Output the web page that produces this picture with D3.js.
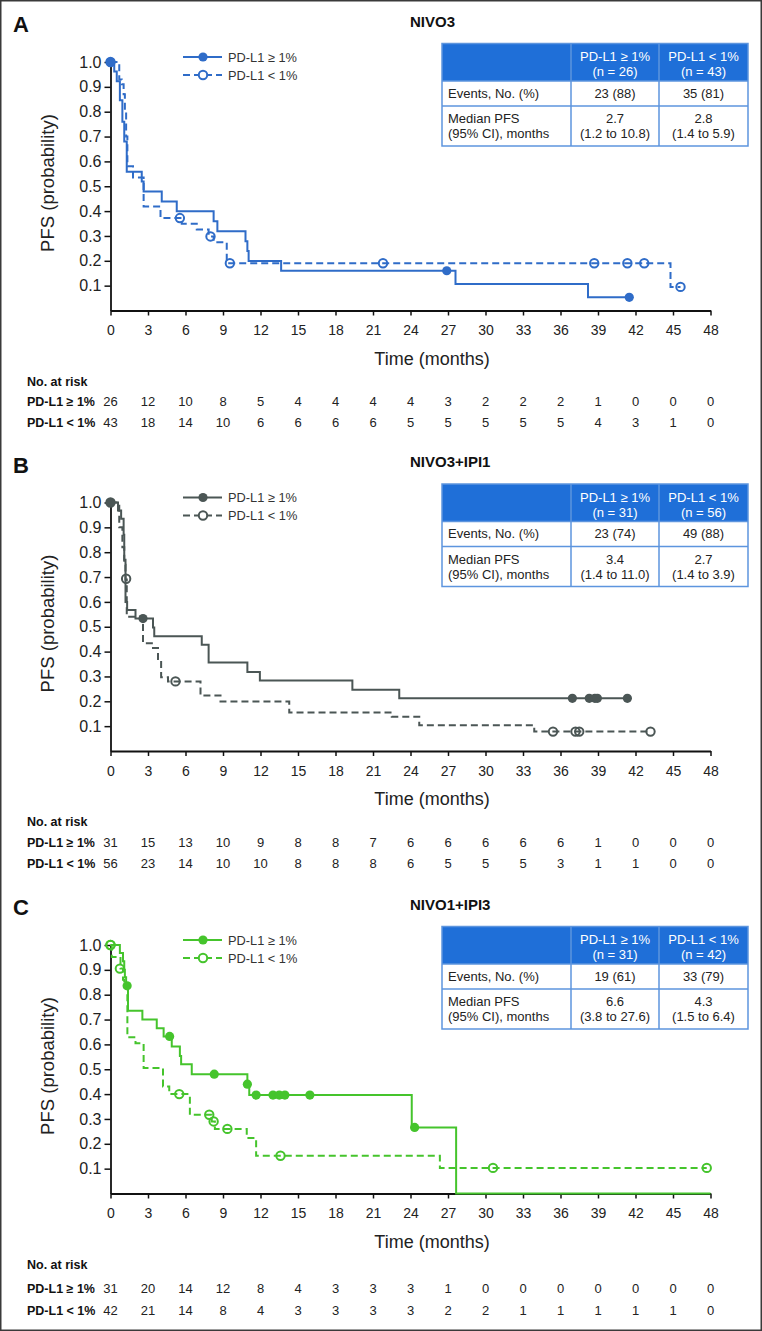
<!DOCTYPE html>
<html><head><meta charset="utf-8">
<script src="https://cdn.jsdelivr.net/npm/d3@7"></script>
<style>
body{margin:0;background:#fff}
svg{display:block}
text{font-family:"Liberation Sans",Arial,Helvetica,sans-serif}
</style>
</head><body>
<svg id="chart" width="762" height="1331"></svg>
<script>
// ---------- shared ticks / labels ----------
const timeTicks = [0,3,6,9,12,15,18,21,24,27,30,33,36,39,42,45,48];
const survTicks = [0.1,0.2,0.3,0.4,0.5,0.6,0.7,0.8,0.9,1.0];
const groupLabels = ["PD-L1 \u2265 1%", "PD-L1 < 1%"];
const tableRowLabels = [["Events, No. (%)"], ["Median PFS", "(95% CI), months"]];

// ---------- Panel A: NIVO3 ----------
const nivo3PosSteps = [[0,1],[0.3,0.962],[0.5,0.923],[0.75,0.846],[0.95,0.76],[1.1,0.68],[1.3,0.558],[2.5,0.519],[2.65,0.479],[4.1,0.439],[5.3,0.399],[8.25,0.359],[8.55,0.319],[10.8,0.279],[10.95,0.239],[11.05,0.199],[13.65,0.16],[27.6,0.107],[38.2,0.053],[41.5,0.053]];
const nivo3PosCensor = [[0,1],[26.9,0.16],[41.5,0.053]];
const nivo3NegSteps = [[0,1],[0.7,0.93],[0.9,0.91],[1.05,0.87],[1.15,0.8],[1.25,0.7],[1.35,0.58],[1.8,0.535],[2.65,0.419],[4.0,0.372],[5.7,0.349],[6.9,0.326],[7.85,0.298],[8.25,0.275],[9.3,0.19],[44.8,0.095],[45.6,0.095]];
const nivo3NegCensor = [[0,1],[5.55,0.372],[8.0,0.298],[9.55,0.19],[21.8,0.19],[38.7,0.19],[41.35,0.19],[42.7,0.19],[45.6,0.095]];
const nivo3RiskPos = [26,12,10,8,5,4,4,4,4,3,2,2,2,1,0,0,0];
const nivo3RiskNeg = [43,18,14,10,6,6,6,6,5,5,5,5,5,4,3,1,0];
const nivo3N = [26,43];
const nivo3Events = ["23 (88)","35 (81)"];
const nivo3Median = ["2.7","2.8"];
const nivo3CI = ["(1.2 to 10.8)","(1.4 to 5.9)"];

// ---------- Panel B: NIVO3+IPI1 ----------
const nivo3ipi1PosSteps = [[0,1],[0.6,0.968],[0.85,0.935],[1.05,0.87],[1.1,0.77],[1.2,0.6],[1.33,0.567],[2.0,0.533],[3.4,0.497],[3.5,0.462],[7.3,0.428],[7.85,0.356],[10.95,0.318],[11.95,0.284],[19.35,0.246],[23.1,0.212],[41.35,0.212]];
const nivo3ipi1PosCensor = [[0,1],[2.6,0.533],[36.95,0.212],[38.3,0.212],[38.75,0.212],[38.95,0.212],[41.35,0.212]];
const nivo3ipi1NegSteps = [[0,1],[0.7,0.9],[0.95,0.82],[1.1,0.75],[1.2,0.69],[1.3,0.54],[2.6,0.434],[3.4,0.414],[3.8,0.37],[4.05,0.297],[4.6,0.28],[7.2,0.223],[8.8,0.199],[14.3,0.155],[22.5,0.138],[24.7,0.104],[33.9,0.078],[43.2,0.078]];
const nivo3ipi1NegCensor = [[0,1],[1.25,0.693],[5.2,0.28],[35.4,0.078],[37.2,0.078],[37.5,0.078],[43.2,0.078]];
const nivo3ipi1RiskPos = [31,15,13,10,9,8,8,7,6,6,6,6,6,1,0,0,0];
const nivo3ipi1RiskNeg = [56,23,14,10,10,8,8,8,6,5,5,5,3,1,1,0,0];
const nivo3ipi1N = [31,56];
const nivo3ipi1Events = ["23 (74)","49 (88)"];
const nivo3ipi1Median = ["3.4","2.7"];
const nivo3ipi1CI = ["(1.4 to 11.0)","(1.4 to 3.9)"];

// ---------- Panel C: NIVO1+IPI3 ----------
const nivo1ipi3PosSteps = [[0,1],[0.75,0.968],[1.0,0.935],[1.1,0.9],[1.15,0.87],[1.25,0.836],[1.4,0.735],[2.55,0.7],[3.7,0.665],[4.25,0.632],[4.9,0.592],[5.55,0.553],[5.65,0.52],[6.5,0.48],[10.95,0.44],[11.1,0.396],[24.1,0.266],[27.65,0],[48,0]];
const nivo1ipi3PosCensor = [[1.33,0.836],[4.73,0.632],[8.3,0.48],[10.95,0.44],[11.65,0.396],[13.0,0.396],[13.5,0.396],[13.95,0.396],[15.95,0.396],[24.33,0.266]];
const nivo1ipi3NegSteps = [[0,1],[0.1,0.952],[0.8,0.905],[1.0,0.86],[1.1,0.83],[1.35,0.629],[2.0,0.605],[2.65,0.505],[4.2,0.431],[4.7,0.40],[6.35,0.317],[8.1,0.29],[8.35,0.26],[10.9,0.223],[11.65,0.152],[26.35,0.103],[47.7,0.103]];
const nivo1ipi3NegCensor = [[0,1],[0.75,0.905],[5.5,0.40],[7.9,0.317],[8.25,0.29],[9.35,0.26],[13.6,0.152],[30.6,0.103],[47.7,0.103]];
const nivo1ipi3RiskPos = [31,20,14,12,8,4,3,3,3,1,0,0,0,0,0,0,0];
const nivo1ipi3RiskNeg = [42,21,14,8,4,3,3,3,3,2,2,1,1,1,1,1,0];
const nivo1ipi3N = [31,42];
const nivo1ipi3Events = ["19 (61)","33 (79)"];
const nivo1ipi3Median = ["6.6","4.3"];
const nivo1ipi3CI = ["(3.8 to 27.6)","(1.5 to 6.4)"];

// ---------- panel configuration (layout + styling) ----------
const panels = [
  {letter:"A", title:"NIVO3", top:0, color:"#2f6cc8", rows:[401,422.5],
   pos:[nivo3PosSteps,nivo3PosCensor], neg:[nivo3NegSteps,nivo3NegCensor],
   risk:[nivo3RiskPos,nivo3RiskNeg], n:nivo3N, events:nivo3Events, median:nivo3Median, ci:nivo3CI, startMarker:"filled"},
  {letter:"B", title:"NIVO3+IPI1", top:440.5, color:"#4b5655", rows:[401.5,422.5],
   pos:[nivo3ipi1PosSteps,nivo3ipi1PosCensor], neg:[nivo3ipi1NegSteps,nivo3ipi1NegCensor],
   risk:[nivo3ipi1RiskPos,nivo3ipi1RiskNeg], n:nivo3ipi1N, events:nivo3ipi1Events, median:nivo3ipi1Median, ci:nivo3ipi1CI, startMarker:"filled"},
  {letter:"C", title:"NIVO1+IPI3", top:883, color:"#45c42c", rows:[405,427],
   pos:[nivo1ipi3PosSteps,nivo1ipi3PosCensor], neg:[nivo1ipi3NegSteps,nivo1ipi3NegCensor],
   risk:[nivo1ipi3RiskPos,nivo1ipi3RiskNeg], n:nivo1ipi3N, events:nivo1ipi3Events, median:nivo1ipi3Median, ci:nivo1ipi3CI, startMarker:"open"}
];

const svg = d3.select("#chart");
svg.append("rect").attr("x",0.75).attr("y",0.75).attr("width",760.5).attr("height",1329.5)
  .attr("fill","#fff").attr("stroke","#3a3a3a").attr("stroke-width",1.5);

const x = d3.scaleLinear().domain([0,48]).range([110.5,710.5]);
const y = d3.scaleLinear().domain([0,1]).range([310.5,62]);
const stepLine = d3.line().x(d=>x(d[0])).y(d=>y(d[1])).curve(d3.curveStepAfter);

const headerBlue = "#1f6fd8", borderBlue = "#5d95de";
const tbl = {x0:442, x1:571, x2:659, x3:748, y0:43.5, y1:81, y2:106, y3:146};

panels.forEach(p => {
  const g = svg.append("g").attr("transform",`translate(0,${p.top})`);

  g.append("text").attr("x",13).attr("y",32).attr("font-size",22).attr("font-weight","bold").attr("fill","#111").text(p.letter);
  g.append("text").attr("x",410).attr("y",26.5).attr("font-size",15).attr("font-weight","bold").attr("fill","#111").text(p.title);

  // y axis
  const ya = g.append("g").attr("transform",`translate(${x(0)},0)`)
    .call(d3.axisLeft(y).tickValues(survTicks).tickFormat(d3.format(".1f")).tickSize(6).tickSizeOuter(0));
  ya.select(".domain").attr("stroke","#111").attr("stroke-width",1.8);
  ya.selectAll(".tick line").attr("stroke","#111").attr("stroke-width",1.5);
  ya.selectAll(".tick text").attr("font-size",16).attr("fill","#222").attr("x",-9)
    .style("font-family",'"Liberation Sans",Arial,sans-serif');

  // x axis
  const xa = g.append("g").attr("transform",`translate(0,${y(0)})`)
    .call(d3.axisBottom(x).tickValues(timeTicks).tickSize(5).tickSizeOuter(0));
  xa.select(".domain").attr("stroke","#111").attr("stroke-width",1.8);
  xa.selectAll(".tick line").attr("stroke","#111").attr("stroke-width",1.5);
  xa.selectAll(".tick text").attr("font-size",14).attr("fill","#222").attr("y",15)
    .style("font-family",'"Liberation Sans",Arial,sans-serif');

  // axis titles
  g.append("text").attr("transform","translate(54,183) rotate(-90)").attr("text-anchor","middle")
    .attr("font-size",18.5).attr("fill","#222").text("PFS (probability)");
  g.append("text").attr("x",432).attr("y",364.5).attr("text-anchor","middle")
    .attr("font-size",18).attr("fill","#222").text("Time (months)");

  // curves
  g.append("path").datum(p.neg[0]).attr("d",stepLine).attr("fill","none")
    .attr("stroke",p.color).attr("stroke-width",2).attr("stroke-dasharray","7,4");
  g.append("path").datum(p.pos[0]).attr("d",stepLine).attr("fill","none")
    .attr("stroke",p.color).attr("stroke-width",2);
  g.selectAll(".cneg").data(p.neg[1]).enter().append("circle")
    .attr("cx",d=>x(d[0])).attr("cy",d=>y(d[1])).attr("r",4.2)
    .attr("fill","none").attr("stroke",p.color).attr("stroke-width",2);
  g.selectAll(".cpos").data(p.pos[1]).enter().append("circle")
    .attr("cx",d=>x(d[0])).attr("cy",d=>y(d[1])).attr("r",4.6)
    .attr("fill",p.color);

  // legend
  const lg = g.append("g");
  [0,1].forEach(i => {
    const ly = 57 + i*18;
    lg.append("line").attr("x1",183).attr("x2",222).attr("y1",ly).attr("y2",ly)
      .attr("stroke",p.color).attr("stroke-width",2).attr("stroke-dasharray", i ? "7,4" : null);
    lg.append("circle").attr("cx",203).attr("cy",ly).attr("r", i ? 4.2 : 4.6)
      .attr("fill", i ? "#fff" : p.color).attr("stroke",p.color).attr("stroke-width", i ? 2 : 0);
    lg.append("text").attr("x",228).attr("y",ly+4.5).attr("font-size",12.8).attr("fill","#333").text(groupLabels[i]);
  });

  // summary table
  const tg = g.append("g");
  tg.append("rect").attr("x",tbl.x0).attr("y",tbl.y0).attr("width",tbl.x3-tbl.x0).attr("height",tbl.y1-tbl.y0).attr("fill",headerBlue);
  tg.append("rect").attr("x",tbl.x0).attr("y",tbl.y0).attr("width",tbl.x3-tbl.x0).attr("height",tbl.y3-tbl.y0)
    .attr("fill","none").attr("stroke",borderBlue).attr("stroke-width",1.5);
  [tbl.y1,tbl.y2].forEach(yy => tg.append("line").attr("x1",tbl.x0).attr("x2",tbl.x3).attr("y1",yy).attr("y2",yy).attr("stroke",borderBlue).attr("stroke-width",1.5));
  [tbl.x1,tbl.x2].forEach(xx => tg.append("line").attr("x1",xx).attr("x2",xx).attr("y1",tbl.y0).attr("y2",tbl.y3).attr("stroke",borderBlue).attr("stroke-width",1.5));
  const colC = [(tbl.x1+tbl.x2)/2, (tbl.x2+tbl.x3)/2];
  [0,1].forEach(i => {
    tg.append("text").attr("x",colC[i]).attr("y",61).attr("text-anchor","middle").attr("font-size",13).attr("fill","#fff").text(groupLabels[i]);
    tg.append("text").attr("x",colC[i]).attr("y",76).attr("text-anchor","middle").attr("font-size",13).attr("fill","#fff").text(`(n = ${p.n[i]})`);
    tg.append("text").attr("x",colC[i]).attr("y",97.5).attr("text-anchor","middle").attr("font-size",13).attr("fill","#222").text(p.events[i]);
    tg.append("text").attr("x",colC[i]).attr("y",123).attr("text-anchor","middle").attr("font-size",13).attr("fill","#222").text(p.median[i]);
    tg.append("text").attr("x",colC[i]).attr("y",138).attr("text-anchor","middle").attr("font-size",13).attr("fill","#222").text(p.ci[i]);
  });
  tg.append("text").attr("x",448).attr("y",97.5).attr("font-size",13).attr("fill","#222").text(tableRowLabels[0][0]);
  tg.append("text").attr("x",448).attr("y",123).attr("font-size",13).attr("fill","#222").text(tableRowLabels[1][0]);
  tg.append("text").attr("x",448).attr("y",138).attr("font-size",13).attr("fill","#222").text(tableRowLabels[1][1]);

  // number at risk
  g.append("text").attr("x",27).attr("y",385.5).attr("font-size",12.5).attr("font-weight","bold").attr("fill","#111").text("No. at risk");
  [0,1].forEach(i => {
    const ry = p.rows[i] + 4.6;
    g.append("text").attr("x",27).attr("y",ry).attr("font-size",12.5).attr("font-weight","bold").attr("fill","#111").text(groupLabels[i]);
    g.selectAll(null).data(p.risk[i]).enter().append("text")
      .attr("x",(d,j)=>x(timeTicks[j])).attr("y",ry).attr("text-anchor","middle")
      .attr("font-size",13).attr("fill","#222").text(d=>d);
  });
});

// start markers at time 0 drawn on top
panels.forEach(p => {
  const g = svg.append("g").attr("transform",`translate(0,${p.top})`);
  if (p.startMarker === "open") {
    g.append("circle").attr("cx",x(p.neg[1][0][0])).attr("cy",y(p.neg[1][0][1])).attr("r",4.2)
      .attr("fill","none").attr("stroke",p.color).attr("stroke-width",2);
  }
});
</script>
</body></html>
